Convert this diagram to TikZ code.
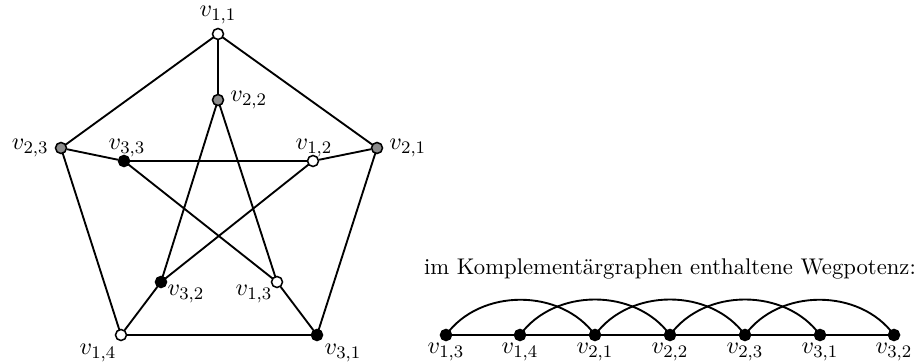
\documentclass[tikz,border=0pt]{standalone}
\pgfdeclarelayer{bg}
\pgfsetlayers{bg,main}
\begin{document}
\begin{tikzpicture}[x=0.454pt,y=0.454pt,
  vtx/.style={circle,draw=black,line width=0.7pt,inner sep=0pt,minimum size=5pt},
  wv/.style={vtx,fill=white},
  gv/.style={vtx,fill=gray!90},
  bv/.style={vtx,fill=black},
  edge/.style={line width=0.85pt},
  lab/.style={inner sep=0pt,font=\fontsize{11}{13}\selectfont},
  ttl/.style={inner sep=0pt,font=\fontsize{10.3}{12}\selectfont}]
\useasboundingbox (0,0) rectangle (915,-363);
% Petersen graph vertices
\node[wv] (v11) at (218,-34) {};
\node[gv] (v21) at (377,-148) {};
\node[bv] (v31) at (317,-335) {};
\node[wv] (v14) at (121,-335) {};
\node[gv] (v23) at (61,-148) {};
\node[gv] (v22) at (218,-100) {};
\node[wv] (v12) at (313,-161) {};
\node[wv] (v13) at (277,-282) {};
\node[bv] (v32) at (161,-282) {};
\node[bv] (v33) at (124,-161) {};
\begin{pgfonlayer}{bg}
\draw[edge] (v11.center) -- (v21.center) -- (v31.center) -- (v14.center) -- (v23.center) -- cycle;
\draw[edge] (v11) -- (v22);
\draw[edge] (v21) -- (v12);
\draw[edge] (v31) -- (v13);
\draw[edge] (v14) -- (v32);
\draw[edge] (v23) -- (v33);
\draw[edge] (v22.center) -- (v32.center) -- (v12.center) -- (v33.center) -- (v13.center) -- cycle;
\end{pgfonlayer}
% labels
\node[lab] (l11) at (218,-15) {$v_{1,1}$};
\node[lab,anchor=west] (l22) at (230,-100) {$v_{2,2}$};
\node[lab,anchor=east] (l23) at (49,-148) {$v_{2,3}$};
\node[lab] (l33) at (127,-148) {$v_{3,3}$};
\node[lab] (l12) at (314,-148) {$v_{1,2}$};
\node[lab,anchor=west] (l21) at (389,-148) {$v_{2,1}$};
\node[lab] (l32) at (186,-294) {$v_{3,2}$};
\node[lab] (l13) at (254,-294) {$v_{1,3}$};
\node[lab] (l14) at (98,-353) {$v_{1,4}$};
\node[lab] (l31) at (343,-353) {$v_{3,1}$};
% path power
\node[ttl] (title) at (670,-269) {im Komplementärgraphen enthaltene Wegpotenz:};
\foreach \n/\x/\t in {p1/446/{1,3},p2/520/{1,4},p3/595/{2,1},p4/670/{2,2},p5/745/{2,3},p6/820/{3,1},p7/894/{3,2}}{
  \node[bv] (\n) at (\x,-335) {};
  \node[lab] (\n l) at (\x,-352) {$v_{\t}$};
}
\begin{pgfonlayer}{bg}
\draw[edge] (p1) -- (p2) -- (p3) -- (p4) -- (p5) -- (p6) -- (p7);
\draw[edge] (p1.center) to[bend left=54] (p3.center);
\draw[edge] (p2.center) to[bend left=54] (p4.center);
\draw[edge] (p3.center) to[bend left=54] (p5.center);
\draw[edge] (p4.center) to[bend left=54] (p6.center);
\draw[edge] (p5.center) to[bend left=54] (p7.center);
\end{pgfonlayer}
\end{tikzpicture}
\end{document}
